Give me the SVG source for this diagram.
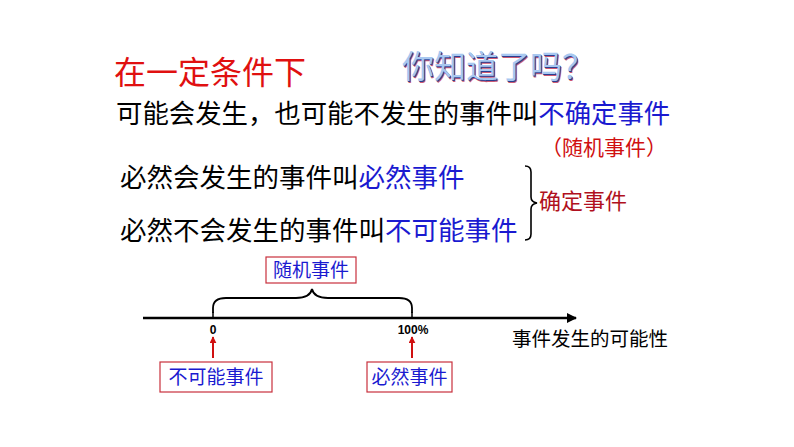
<svg xmlns="http://www.w3.org/2000/svg" width="794" height="447" viewBox="0 0 794 447">
<defs>
<style>
text{font-family:"Noto Sans CJK SC","Noto Sans",sans-serif;}
.blk{fill:#000;}
.blue{fill:#1a1ad0;}
.box{fill:#fff;stroke:#c8303c;stroke-width:1.2;}
.bt{font-size:19px;fill:#1a1ad0;text-anchor:middle;}
.num{font-family:"Liberation Sans",Arial,sans-serif;font-weight:bold;font-size:12px;text-anchor:middle;}
.ra{stroke:#d01010;stroke-width:2;fill:none;}
</style>
<marker id="ah" viewBox="0 0 10 10" refX="9" refY="5" markerWidth="4" markerHeight="4" orient="auto"><path d="M0,0L10,5L0,10z" fill="#000"/></marker>
<marker id="rh" viewBox="0 0 10 10" refX="9" refY="5" markerWidth="3.5" markerHeight="3.5" orient="auto"><path d="M0,0L10,5L0,10z" fill="#d01010"/></marker>
</defs>
<rect width="794" height="447" fill="#fff"/>
<g id="title">
<text x="114" y="84" font-size="32" fill="#e01010">在一定条件下</text>
</g>
<g id="question">
<text x="402" y="78" font-size="32" fill="#c03050" opacity="0.8" transform="translate(1.5,1.5)">你知道了吗？</text>
<text x="402" y="78" font-size="32" fill="#2a3f90" transform="translate(0.8,0.8)">你知道了吗？</text>
<text x="402" y="78" font-size="32" fill="#a8c8f0">你知道了吗？</text>
</g>
<g id="line1">
<text x="116" y="123" font-size="26.4"><tspan class="blk">可能会发生，也可能不发生的事件叫</tspan><tspan class="blue">不确定事件</tspan></text>
<text x="541" y="155" font-size="21" fill="#d01010">（随机事件）</text>
</g>
<g id="line2">
<text x="120" y="187" font-size="26.5"><tspan class="blk">必然会发生的事件叫</tspan><tspan class="blue">必然事件</tspan></text>
</g>
<g id="line3">
<text x="120" y="240" font-size="26.5"><tspan class="blk">必然不会发生的事件叫</tspan><tspan class="blue">不可能事件</tspan></text>
</g>
<g id="certain">
<path d="M525,166 Q531,166 531,172 L531,197 Q531,202 537,203 Q531,204 531,209 L531,234 Q531,240 525,240" fill="none" stroke="#000" stroke-width="1.6"/>
<text x="539" y="209" font-size="22" fill="#b01020">确定事件</text>
</g>
<g id="connectors">
<line x1="143" y1="318" x2="576" y2="318" stroke="#000" stroke-width="2.5" marker-end="url(#ah)"/>
<line x1="213" y1="318" x2="213" y2="312" stroke="#000" stroke-width="1.5"/>
<line x1="412" y1="318" x2="412" y2="312" stroke="#000" stroke-width="1.5"/>
<path d="M213,313 L213,308 Q213,298 226,298 L296,298 Q310,298 312,289 Q314,298 328,298 L399,298 Q412,298 412,308 L412,313" fill="none" stroke="#000" stroke-width="1.8"/>
<line x1="213" y1="358" x2="213" y2="337" class="ra" marker-end="url(#rh)"/>
<line x1="412" y1="358" x2="412" y2="337" class="ra" marker-end="url(#rh)"/>
</g>
<g id="ticks">
<text x="213" y="334" class="num">0</text>
<text x="413" y="334" class="num">100%</text>
<text x="512" y="346" font-size="19.5" class="blk">事件发生的可能性</text>
</g>
<g id="random-box">
<rect x="266" y="257" width="90" height="26" class="box"/>
<text x="311" y="277" class="bt">随机事件</text>
</g>
<g id="impossible-box">
<rect x="160" y="362" width="112" height="30" class="box"/>
<text x="216" y="384" class="bt">不可能事件</text>
</g>
<g id="certain-box">
<rect x="367" y="362" width="85" height="30" class="box"/>
<text x="409.500" y="384" class="bt">必然事件</text>
</g>
</svg>
